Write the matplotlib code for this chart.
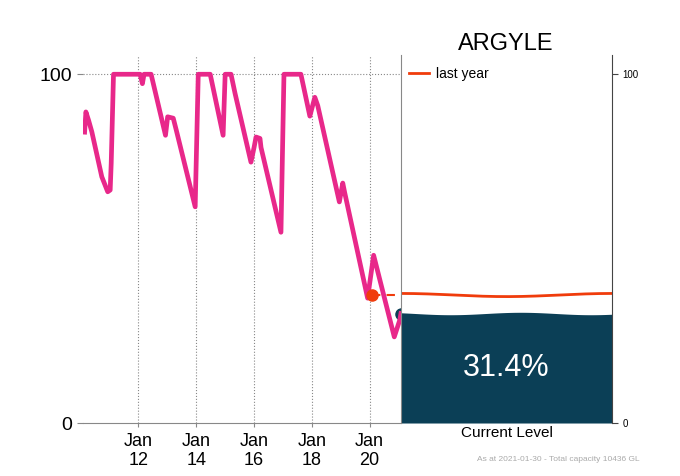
import numpy as np
import pandas as pd
import matplotlib.pyplot as plt

plt.rcParams['font.family'] = ['Liberation Sans', 'DejaVu Sans']

# storage level history (% of capacity)
dates = ['2010-02-20', '2010-03-08', '2010-04-11', '2010-05-22', '2010-09-25', '2010-12-09',
         '2011-01-09', '2011-01-22', '2011-02-20', '2012-01-22', '2012-02-20', '2012-03-12',
         '2012-06-09', '2012-12-08', '2013-01-04', '2013-03-16', '2013-04-23', '2013-12-18',
         '2014-01-26', '2014-06-26', '2014-12-06', '2015-01-01', '2015-03-16', '2015-05-06',
         '2015-11-23', '2016-01-01', '2016-01-26', '2016-03-16', '2016-03-29', '2016-12-06',
         '2017-01-13', '2017-08-15', '2017-12-06', '2018-02-07', '2018-03-16', '2018-12-14',
         '2019-01-26', '2019-02-20', '2019-12-06', '2020-02-20', '2020-11-07', '2021-01-15',
         '2021-01-30']
levels = [83.4, 89.2, 86.8, 83.5, 70.6, 66.3,
          66.8, 74.5, 100, 100, 97.3, 100,
          100, 82.5, 87.8, 87.4, 84.0, 62.0,
          100, 100, 82.5, 100, 100, 94.5,
          74.8, 79.0, 82.0, 81.6, 79.0, 54.7,
          100, 100, 88.0, 93.4, 91.0, 63.4,
          68.8, 66.0, 35.8, 48.1, 24.7, 29.5,
          31.4]

current_date = '2021-01-30'
current_level = 31.4
last_year_date = '2020-01-30'
last_year_level = 36.7
tick_years = [2012, 2014, 2016, 2018, 2020]
dam_name = 'ARGYLE'
capacity_gl = 10436

pink = '#e8288a'
navy = '#0b3f56'
red = '#f03c0c'
grey = '#888888'

df = pd.DataFrame({'date': pd.to_datetime(dates), 'level': levels})

fig = plt.figure(figsize=(6.8, 4.76), dpi=100)
ax = fig.add_axes([0.122, 0.1113, 0.4676, 0.773])
axr = fig.add_axes([0.5897, 0.1113, 0.3103, 0.773])

ymax = 105.5

# left: history
ax.plot(df['date'], df['level'], color=pink, lw=3.4, solid_joinstyle='round', zorder=3)
ax.plot([pd.Timestamp(last_year_date), pd.Timestamp(current_date)],
        [last_year_level, last_year_level], color=red, lw=1.5, ls=(0, (4, 3)), zorder=2,
        clip_on=False)
ax.plot(pd.Timestamp(last_year_date), last_year_level, 'o', color=red, ms=8, zorder=4)
ax.plot(pd.Timestamp(current_date), current_level, 'o', color=navy, ms=8, zorder=1,
        clip_on=False)

ax.set_xlim(pd.Timestamp('2010-01-30'), pd.Timestamp(current_date))
ax.set_ylim(0, ymax)
ticks = [pd.Timestamp(f'{y}-01-01') for y in tick_years]
ax.set_xticks(ticks)
ax.set_xticklabels([f'Jan\n{str(y)[2:]}' for y in tick_years], fontsize=13, linespacing=1.2)
ax.set_yticks([0, 100])
ax.set_yticklabels(['0', '100'], fontsize=14)
ax.tick_params(axis='y', length=4, color=grey, pad=4)
ax.tick_params(axis='x', length=3, color=grey, pad=4)
for t in ticks:
    ax.axvline(t, color=grey, ls=':', lw=0.8, zorder=0)
ax.axhline(100, color=grey, ls=':', lw=0.8, zorder=0)
for s in ['left', 'top', 'right']:
    ax.spines[s].set_visible(False)
ax.spines['bottom'].set_color(grey)

# right: current level gauge
xw = np.linspace(0, 1, 200)
axr.fill_between(xw, 0, current_level + 0.35 * np.sin(2 * np.pi * 1.5 * xw + 2.5),
                 color=navy, lw=0)
axr.plot(xw, last_year_level + 0.45 * np.cos(2 * np.pi * xw), color=red, lw=2)
axr.text(0.5, current_level / 2, f'{current_level}%', color='white', fontsize=22,
         ha='center', va='center')
axr.plot([], [], color=red, lw=2, label='last year')
axr.legend(loc='upper left', frameon=False, fontsize=10, handlelength=1.4,
           handletextpad=0.5, borderaxespad=0.2, bbox_to_anchor=(0.0, 0.99))
axr.set_xlim(0, 1)
axr.set_ylim(0, ymax)
axr.set_xticks([])
axr.set_xlabel('Current Level', fontsize=11, labelpad=2)
axr.yaxis.tick_right()
axr.set_yticks([0, 100])
axr.set_yticklabels(['0', '100'], fontsize=7)
axr.tick_params(axis='y', length=4, color='#444444')
axr.spines['top'].set_visible(False)
axr.spines['bottom'].set_visible(False)
axr.spines['left'].set_color(grey)
axr.spines['right'].set_color('#444444')

fig.text(0.744, 0.907, dam_name, fontsize=17, ha='center', va='center')
fig.text(0.94, 0.035, f'As at {current_date} - Total capacity {capacity_gl} GL',
         fontsize=6, color='#aaaaaa', ha='right', va='center')

fig.savefig('out.png', dpi=100)
